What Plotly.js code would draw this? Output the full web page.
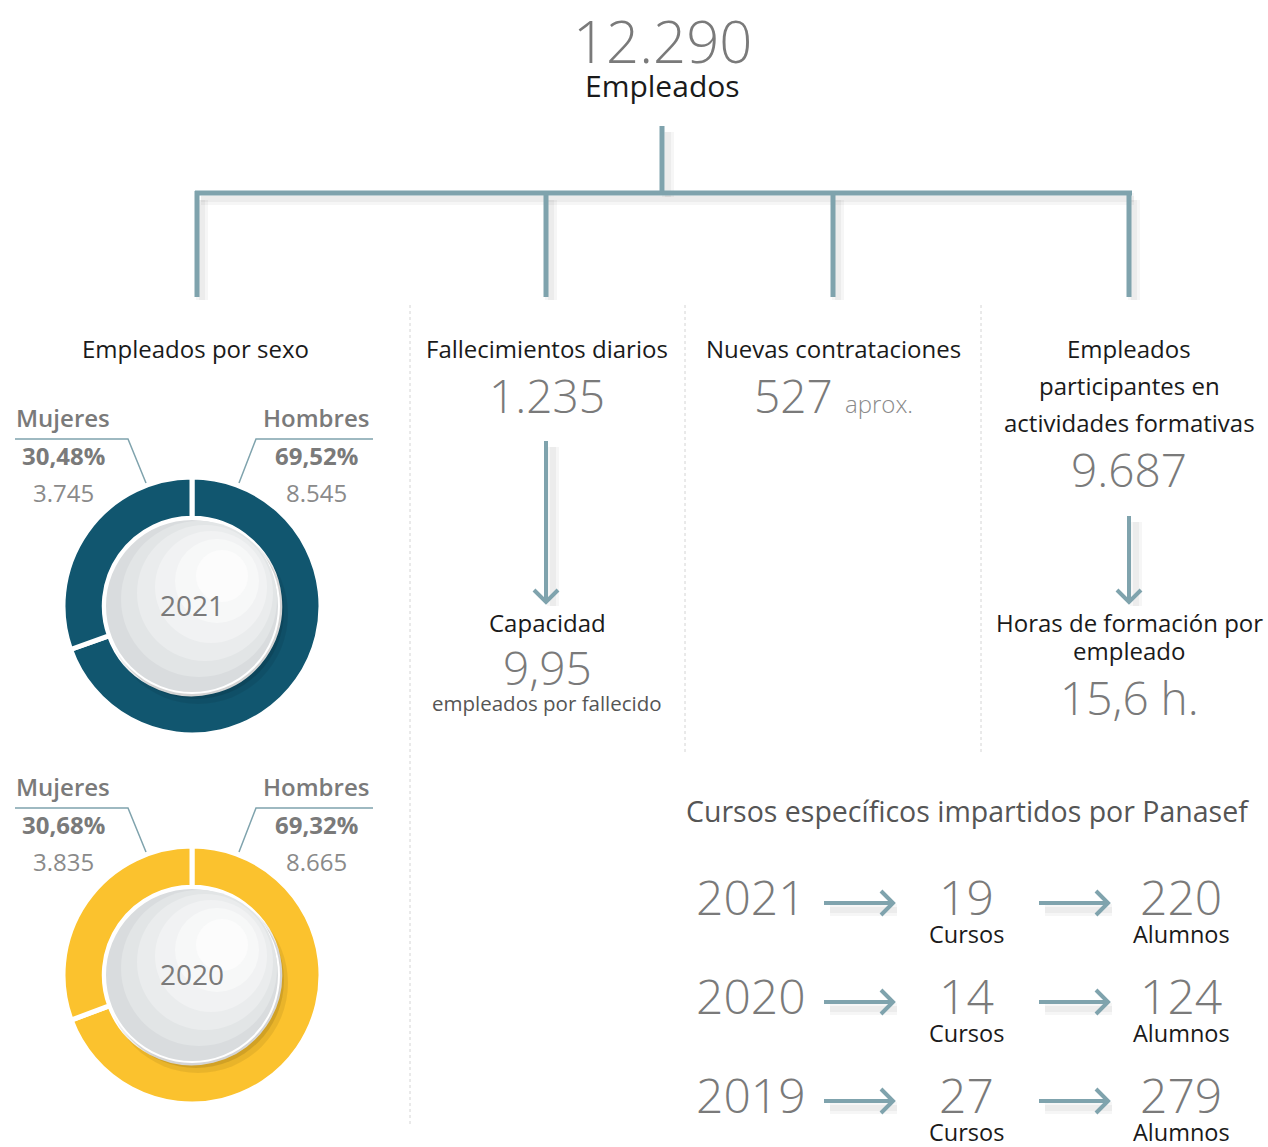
<!DOCTYPE html>
<html>
<head>
<meta charset="utf-8">
<script src="https://cdn.plot.ly/plotly-3.0.1.min.js"></script>
<style>html,body{margin:0;padding:0;background:#fff;}#chart{width:1268px;height:1147px;}</style>
</head>
<body>
<div id="chart"></div>
<script>
// ---------- DATA ----------
const totalEmployees = '12.290';
const sexLabels = ['Hombres', 'Mujeres'];
const sex2021 = [8545, 3745];
const sex2020 = [8665, 3835];
const pct2021 = ['69,52%', '30,48%'];
const pct2020 = ['69,32%', '30,68%'];
const num2021 = ['8.545', '3.745'];
const num2020 = ['8.665', '3.835'];
const donutYears = ['2021', '2020'];

const fallecimientos = '1.235';
const capacidad = '9,95';
const contrataciones = '527';
const participantes = '9.687';
const horas = '15,6 h.';

const courseYears = ['2021', '2020', '2019'];
const cursos = [19, 14, 27];
const alumnos = [220, 124, 279];

// ---------- STYLE ----------
const W = 1268, H = 1147;
const FONT = 'Open Sans, Noto Sans, sans-serif';
const LINE = '#7fa3ad';
const GREY = '#7a7a7a';
const DARK = '#1a1a1a';
const TEAL = '#11566f';
const YELLOW = '#fbc22e';

const donutCenters = [[192, 606], [192, 975]];
const R = 129;

function dom(cx, cy) {
  return {
    x: [(cx - R) / W, (cx + R) / W],
    y: [(H - cy - R) / H, (H - cy + R) / H]
  };
}

const traces = [
  {type: 'pie', labels: sexLabels, values: sex2021, sort: false, direction: 'clockwise', rotation: 0,
   hole: 0.68, domain: dom(...donutCenters[0]), textinfo: 'none', hoverinfo: 'label+value',
   marker: {colors: [TEAL, TEAL], line: {color: '#ffffff', width: 5}}, showlegend: false},
  {type: 'pie', labels: sexLabels, values: sex2020, sort: false, direction: 'clockwise', rotation: 0,
   hole: 0.68, domain: dom(...donutCenters[1]), textinfo: 'none', hoverinfo: 'label+value',
   marker: {colors: [YELLOW, YELLOW], line: {color: '#ffffff', width: 5}}, showlegend: false},
  {type: 'scatter', x: [0, W], y: [0, H], mode: 'markers', marker: {opacity: 0}, hoverinfo: 'skip', showlegend: false}
];

const shapes = [];
const ann = [];
const DY = -2;

function line(x0, y0, x1, y1, color, width, dash) {
  shapes.push({type: 'line', xref: 'x', yref: 'y', x0, y0, x1, y1, layer: 'above',
    line: {color, width, dash: dash || 'solid'}});
}
function path(d, color, width) {
  shapes.push({type: 'path', xref: 'x', yref: 'y', path: d, layer: 'above', line: {color, width}});
}
function circle(cx, cy, r, fill, lineColor, lineWidth) {
  shapes.push({type: 'circle', xref: 'x', yref: 'y', x0: cx - r, y0: cy - r, x1: cx + r, y1: cy + r,
    fillcolor: fill, line: {color: lineColor || fill, width: lineWidth || 0}, layer: 'above'});
}
function text(x, y, t, size, color, opts) {
  opts = opts || {};
  ann.push(Object.assign({xref: 'x', yref: 'y', x, y: y + DY, text: t, showarrow: false,
    xanchor: 'center', yanchor: 'middle',
    font: {family: FONT, size, color, weight: opts.weight || 400}}, opts.extra || {}));
}

// connector tree with soft shadow
const sh1 = 'rgba(0,0,0,0.035)';
const sh2 = 'rgba(0,0,0,0.04)';
const connX = [197, 546, 833, 1129];
function softLine(x0, y0, x1, y1) {
  line(x0, y0, x1, y1, sh1, 12);
  line(x0, y0, x1, y1, sh2, 6);
}
softLine(668, 132, 668, 197);
softLine(201, 199, 1134, 199);
connX.forEach(x => softLine(x + 5, 200, x + 5, 300));
line(662, 126, 662, 193, LINE, 5);
line(195, 193, 1132, 193, LINE, 5);
connX.forEach(x => line(x, 191, x, 297, LINE, 5));

// dotted separators
line(410, 305, 410, 1125, '#d4d4d4', 1, 'dot');
line(685, 305, 685, 755, '#d4d4d4', 1, 'dot');
line(981, 305, 981, 755, '#d4d4d4', 1, 'dot');

// vertical arrows
function vArrow(x, y0, y1) {
  softLine(x + 7, y0 + 6, x + 7, y1 + 4);
  path(`M ${x},${y0} L ${x},${y1} M ${x - 12},${y1 - 12} L ${x},${y1} L ${x + 12},${y1 - 12}`, LINE, 4);
}
vArrow(546, 441, 602);
vArrow(1129, 516, 602);

// horizontal arrows
function hArrow(x0, x1, y) {
  softLine(x0 + 6, y + 7, x1 + 4, y + 7);
  path(`M ${x0},${y} L ${x1},${y} M ${x1 - 12},${y - 12} L ${x1},${y} L ${x1 - 12},${y + 12}`, LINE, 4);
}

// headline
text(662, 42, totalEmployees, 58, GREY, {weight: 300});
text(662, 87, 'Empleados', 30, DARK);

// column headings
text(195, 350, 'Empleados por sexo', 24, DARK);
text(547, 350, 'Fallecimientos diarios', 24, DARK);
text(833, 350, 'Nuevas contrataciones', 24, DARK);
text(1129, 350, 'Empleados', 24, DARK);
text(1129, 387, 'participantes en', 24, DARK);
text(1129, 424, 'actividades formativas', 24, DARK);

text(547, 397, fallecimientos, 46, GREY, {weight: 300});
text(793, 397, contrataciones, 46, GREY, {weight: 300});
text(843, 405, 'aprox.', 24, '#8a8a8a', {weight: 300, extra: {xanchor: 'left'}});
text(1129, 471, participantes, 46, GREY, {weight: 300});

text(547, 624, 'Capacidad', 24, DARK);
text(547, 669, capacidad, 46, GREY, {weight: 300});
text(547, 705, 'empleados por fallecido', 20.5, '#555555');

text(1129, 624, 'Horas de formación por', 24, DARK);
text(1129, 652, 'empleado', 24, DARK);
text(1129, 699, horas, 46, GREY, {weight: 300});

// donut labels
donutCenters.forEach((c, i) => {
  const [cx, cy] = c;
  const top = cy - 187; // label block top (Mujeres/Hombres line)
  const pcts = i === 0 ? pct2021 : pct2020;
  const nums = i === 0 ? num2021 : num2020;
  // leader lines
  path(`M 15,${top + 20} L 128,${top + 20} L 146,${top + 64}`, LINE, 1.5);
  path(`M 373,${top + 20} L 256,${top + 20} L 239,${top + 64}`, LINE, 1.5);
  text(63, top, sexLabels[1], 24, GREY, {weight: 600});
  text(316, top, sexLabels[0], 24, GREY, {weight: 600});
  text(63, top + 38, pcts[1], 24, GREY, {weight: 700});
  text(316, top + 38, pcts[0], 24, GREY, {weight: 700});
  text(63, top + 75, nums[1], 24, '#8a8a8a');
  text(316, top + 75, nums[0], 24, '#8a8a8a');
  // shadow cast on ring
  circle(cx + 6, cy + 8, 90, 'rgba(0,0,0,0.07)');
  circle(cx + 4, cy + 5, 88, 'rgba(0,0,0,0.10)');
  // center disc: gradient from grey (lower-left) to white (upper-right)
  circle(cx, cy, 87, '#d9dcde', '#ffffff', 2);
  circle(cx + 7, cy - 7, 78, '#e2e5e6');
  circle(cx + 13, cy - 13, 68, '#eaeced');
  circle(cx + 19, cy - 19, 56, '#f1f2f3');
  circle(cx + 25, cy - 25, 42, '#f7f8f8');
  circle(cx + 30, cy - 30, 26, '#fcfcfc');
  text(cx, cy + 1, donutYears[i], 28, GREY);
});

// courses section
text(967, 813, 'Cursos específicos impartidos por Panasef', 28.5, '#555555');
const rowY = [898, 997, 1096];
courseYears.forEach((yr, i) => {
  const y = rowY[i];
  text(751, y, yr, 48, GREY, {weight: 300});
  hArrow(824, 893, y + 5);
  text(966, y, String(cursos[i]), 48, GREY, {weight: 300});
  text(966, y + 38, 'Cursos', 23.5, DARK);
  hArrow(1039, 1108, y + 5);
  text(1181, y, String(alumnos[i]), 48, GREY, {weight: 300});
  text(1181, y + 38, 'Alumnos', 23.5, DARK);
});

const layout = {
  width: W, height: H,
  margin: {l: 0, r: 0, t: 0, b: 0},
  paper_bgcolor: '#ffffff', plot_bgcolor: '#ffffff',
  xaxis: {range: [0, W], visible: false, fixedrange: true},
  yaxis: {range: [H, 0], visible: false, fixedrange: true},
  shapes, annotations: ann,
  font: {family: FONT},
  showlegend: false
};

Plotly.newPlot('chart', traces, layout, {displayModeBar: false, staticPlot: true});
</script>
</body>
</html>
